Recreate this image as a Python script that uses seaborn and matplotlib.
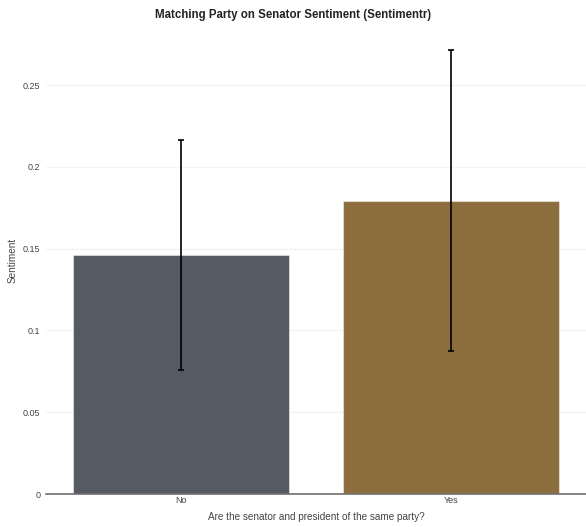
import matplotlib
matplotlib.use("Agg")
import matplotlib.pyplot as plt
import seaborn as sns
import pandas as pd

# Mean sentiment by whether senator and president share a party
categories = ["No", "Yes"]
sentiment = [0.1462, 0.1791]
ci_low = [0.0758, 0.0872]
ci_high = [0.2165, 0.2713]
bar_colors = ["#565a62", "#8c6d3e"]
y_ticks = [0, 0.05, 0.1, 0.15, 0.2, 0.25]
y_tick_labels = ["0", "0.05", "0.1", "0.15", "0.2", "0.25"]

sns.set_theme(style="white")
plt.rcParams["font.family"] = ["Liberation Sans", "DejaVu Sans"]

df = pd.DataFrame({"party": categories, "sentiment": sentiment})

fig = plt.figure(figsize=(5.86, 5.27), dpi=100)
ax = fig.add_axes([46 / 586, 33 / 527, 540 / 586, 467 / 527])

sns.barplot(data=df, x="party", y="sentiment", hue="party",
            palette=bar_colors, saturation=1, width=0.8, errorbar=None,
            legend=False, edgecolor=(1, 1, 1, 0.45), linewidth=0.8,
            ax=ax, zorder=2)

lower = [m - lo for m, lo in zip(sentiment, ci_low)]
upper = [hi - m for m, hi in zip(sentiment, ci_high)]
ax.errorbar(range(len(categories)), sentiment, yerr=[lower, upper],
            fmt="none", ecolor="black", elinewidth=1.2, capsize=2.2,
            capthick=1.2, zorder=3)

ax.set_xlim(-0.5, 1.5)
ax.set_ylim(0, 0.2855)
ax.set_yticks(y_ticks)
ax.set_yticklabels(y_tick_labels)
ax.yaxis.grid(True, color="#f4f4f4", linewidth=1, zorder=0)
ax.set_axisbelow(True)

for side in ["top", "right", "left"]:
    ax.spines[side].set_visible(False)
ax.spines["bottom"].set_color("#707070")
ax.spines["bottom"].set_linewidth(1.2)

ax.tick_params(axis="y", labelsize=6.5, colors="#444444", length=0, pad=4)
ax.tick_params(axis="x", labelsize=6.5, colors="#444444", length=0, pad=1.5)

ax.set_xlabel("Are the senator and president of the same party?",
              fontsize=7.2, color="#444444", labelpad=5)
ax.set_ylabel("Sentiment", fontsize=7.2, color="#444444", labelpad=4)

fig.suptitle("Matching Party on Senator Sentiment (Sentimentr)",
             x=0.5, y=0.982, fontsize=8.3, fontweight="bold", color="#222222")

fig.savefig("out.png", dpi=100)
